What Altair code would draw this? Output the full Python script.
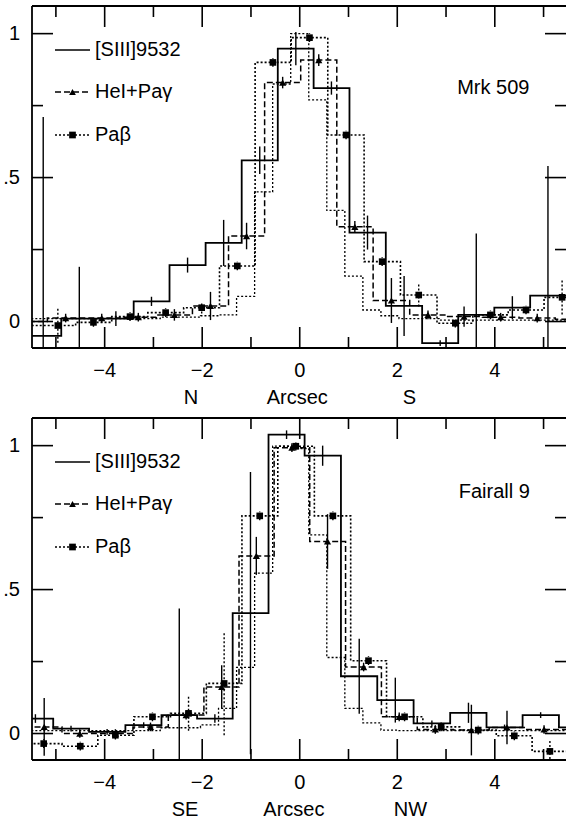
import altair as alt
import pandas as pd

FONT = "Liberation Sans"
FS = 20
W, H = 534, 342
X_DOMAIN = [-5.49, 5.46]
Y_DOMAIN = [-0.092, 1.096]

# ---------------- Mrk 509 (N -> S) ----------------
mrk_siii_x = [-5.26, -4.52, -3.77, -3.04, -2.30, -1.56, -0.82, -0.08, 0.65, 1.39, 2.14, 2.88, 3.62, 4.36, 5.09, 5.83]
mrk_siii_y = [-0.05, 0.01, 0.01, 0.07, 0.196, 0.273, 0.56, 0.948, 0.811, 0.309, 0.054, -0.075, 0.023, 0.048, 0.09, 0.09]
mrk_siii_e = [0.76, 0.18, 0.026, 0.016, 0.026, 0.08, 0.048, 0.058, 0.023, 0.059, 0.104, 0.01, 0.283, 0.04, 0.45, 0]

mrk_hei_x = [-5.55, -4.80, -4.06, -3.31, -2.57, -1.83, -1.09, -0.35, 0.39, 1.13, 1.88, 2.63, 3.37, 4.12, 4.87, 5.61]
mrk_hei_y = [0.0, 0.012, 0.012, 0.015, 0.023, 0.054, 0.297, 0.83, 0.908, 0.329, 0.073, 0.023, 0.017, 0.015, 0.012, 0.008]
mrk_hei_e = [0, 0.015, 0.015, 0.015, 0.02, 0.049, 0.046, 0.02, 0.02, 0.02, 0.078, 0.015, 0.035, 0.015, 0.015, 0]

mrk_pab_x = [-5.70, -4.96, -4.23, -3.48, -2.75, -2.01, -1.28, -0.55, 0.20, 0.95, 1.69, 2.44, 3.19, 3.91, 4.64, 5.38]
mrk_pab_y = [-0.014, -0.014, -0.003, 0.017, 0.031, 0.048, 0.193, 0.90, 0.986, 0.648, 0.208, 0.092, -0.006, 0.023, 0.04, 0.084]
mrk_pab_e = [0, 0.06, 0.015, 0.015, 0.015, 0.02, 0.015, 0.015, 0.015, 0.015, 0.015, 0.04, 0.015, 0.015, 0.015, 0.06]

mrk_psf_x = [-5.0, -3.5, -2.22, -1.85, -1.48, -1.11, -0.74, -0.37, 0.0, 0.37, 0.74, 1.11, 1.48, 1.85, 2.22, 3.5, 5.0]
mrk_psf_y = [0.01, 0.01, 0.015, 0.02, 0.023, 0.087, 0.45, 0.825, 1.0, 0.77, 0.386, 0.158, 0.04, 0.02, 0.01, 0.005, 0.005]

# ---------------- Fairall 9 (SE -> NW) ----------------
f9_siii_x = [-5.42, -4.69, -3.95, -3.20, -2.47, -1.74, -1.01, -0.27, 0.47, 1.22, 1.96, 2.71, 3.46, 4.20, 4.94, 5.69]
f9_siii_y = [0.052, 0.017, 0.006, 0.029, 0.064, 0.052, 0.418, 1.038, 0.965, 0.199, 0.116, 0.035, 0.072, 0.021, 0.064, 0.021]
f9_siii_e = [0.015, 0.01, 0.01, 0.01, 0.37, 0.015, 0.49, 0.015, 0.035, 0.13, 0.078, 0.01, 0.035, 0.01, 0.01, 0]

f9_hei_x = [-5.96, -5.24, -4.51, -3.78, -3.06, -2.33, -1.60, -0.89, -0.16, 0.57, 1.31, 2.04, 2.78, 3.52, 4.25, 5.01, 5.75]
f9_hei_y = [0.03, 0.023, 0.0, 0.0, 0.023, 0.064, 0.162, 0.617, 0.993, 0.667, 0.231, 0.058, 0.014, 0.012, 0.021, 0.014, 0.014]
f9_hei_e = [0, 0.1, 0.015, 0.015, 0.015, 0.015, 0.075, 0.066, 0.015, 0.095, 0.015, 0.015, 0.015, 0.088, 0.058, 0.015, 0]

f9_pab_x = [-5.99, -5.25, -4.50, -3.78, -3.02, -2.28, -1.55, -0.82, -0.08, 0.68, 1.41, 2.15, 2.90, 3.66, 4.40, 5.13, 5.87]
f9_pab_y = [-0.035, -0.035, -0.044, -0.006, 0.058, 0.07, 0.174, 0.756, 0.998, 0.756, 0.253, 0.058, 0.023, 0.012, -0.008, -0.062, -0.062]
f9_pab_e = [0, 0.015, 0.015, 0.015, 0.015, 0.06, 0.18, 0.015, 0.015, 0.015, 0.015, 0.015, 0.015, 0.015, 0.015, 0.04, 0]

f9_psf_x = [-5.0, -3.5, -2.22, -1.85, -1.48, -1.11, -0.74, -0.37, 0.0, 0.37, 0.74, 1.11, 1.48, 1.85, 2.22, 3.5, 5.0]
f9_psf_y = [0.01, 0.01, 0.02, 0.03, 0.087, 0.23, 0.557, 0.998, 0.99, 0.69, 0.264, 0.087, 0.037, 0.012, 0.01, 0.01, 0.01]

legend_labels = ["[SIII]9532", "HeI+Paγ", "Paβ"]
x_major = [-4, -2, 0, 2, 4]
x_major_labels = ["\u22124", "\u22122", "0", "2", "4"]
x_minor = [-5, -3, -1, 1, 3, 5]
y_major = [0, 0.5, 1]
y_major_labels = ["0", ".5", "1"]
y_minor = [0.25, 0.75]

xs = alt.Scale(domain=X_DOMAIN, nice=False, zero=False)
ys = alt.Scale(domain=Y_DOMAIN, nice=False, zero=False)

DASH = [6, 3]
DOT = [2, 2]


def step_frame(centers, values):
    """Histogram outline: each bin runs between midpoints of neighbouring centres."""
    rows = []
    n = len(centers)
    for i, (c, v) in enumerate(zip(centers, values)):
        lo = (centers[i - 1] + c) / 2 if i > 0 else c - (centers[1] - c) / 2
        hi = (c + centers[i + 1]) / 2 if i < n - 1 else c + (c - centers[i - 1]) / 2
        rows.append({"x": lo, "y": v, "k": 2 * i})
        rows.append({"x": hi, "y": v, "k": 2 * i + 1})
    return pd.DataFrame(rows)


def step_layer(centers, values, dash=None, width=1.5):
    kw = dict(color="black", strokeWidth=width, clip=True)
    if dash:
        kw["strokeDash"] = dash
    return alt.Chart(step_frame(centers, values)).mark_line(**kw).encode(
        x=alt.X("x:Q", scale=xs, axis=None),
        y=alt.Y("y:Q", scale=ys, axis=None),
        order="k:Q",
    )


def err_layer(centers, values, errs, dash=None):
    df = pd.DataFrame(
        [{"x": c, "lo": v - e, "hi": v + e} for c, v, e in zip(centers, values, errs) if e > 0]
    )
    kw = dict(color="black", strokeWidth=1.4, clip=True)
    if dash:
        kw["strokeDash"] = dash
    return alt.Chart(df).mark_rule(**kw).encode(
        x=alt.X("x:Q", scale=xs, axis=None),
        y=alt.Y("lo:Q", scale=ys, axis=None),
        y2="hi:Q",
    )


def marker_layer(centers, values, shape, size):
    df = pd.DataFrame({"x": centers, "y": values})
    return alt.Chart(df).mark_point(
        shape=shape, filled=True, size=size, color="black", opacity=1, clip=True
    ).encode(
        x=alt.X("x:Q", scale=xs, axis=None),
        y=alt.Y("y:Q", scale=ys, axis=None),
    )


def label_layers():
    # tick labels drawn as text so the inward tick style stays independent
    xl = pd.DataFrame({"t": x_major, "s": x_major_labels})
    yl = pd.DataFrame({"t": y_major, "s": y_major_labels})
    return [
        alt.Chart(xl).mark_text(fontSize=FS, font=FONT, color="black", baseline="middle").encode(
            x=alt.X("t:Q", scale=xs, axis=None), y=alt.value(H + 23), text="s:N"
        ),
        alt.Chart(yl).mark_text(fontSize=FS, font=FONT, color="black", baseline="middle",
                                align="right").encode(
            y=alt.Y("t:Q", scale=ys, axis=None), x=alt.value(-12), text="s:N"
        ),
    ]


def tick_layers():
    layers = []
    for vals, ln in ((x_major, 21), (x_minor, 11)):
        df = pd.DataFrame({"t": vals})
        for y0, y1 in ((H, H - ln), (0, ln)):
            layers.append(
                alt.Chart(df).mark_rule(color="black", strokeWidth=1.6).encode(
                    x=alt.X("t:Q", scale=xs, axis=None), y=alt.value(y0), y2=alt.value(y1)
                )
            )
    for vals, ln in ((y_major, 21), (y_minor, 11)):
        df = pd.DataFrame({"t": vals})
        for x0, x1 in ((0, ln), (W, W - ln)):
            layers.append(
                alt.Chart(df).mark_rule(color="black", strokeWidth=1.6).encode(
                    y=alt.Y("t:Q", scale=ys, axis=None), x=alt.value(x0), x2=alt.value(x1)
                )
            )
    one = pd.DataFrame({"a": [0]})
    frame = alt.Chart(one).mark_rule(color="black", strokeWidth=1.8)
    layers += [
        frame.encode(x=alt.value(0), x2=alt.value(W), y=alt.value(0)),
        frame.encode(x=alt.value(0), x2=alt.value(W), y=alt.value(H)),
        frame.encode(x=alt.value(0), y=alt.value(0), y2=alt.value(H)),
    ]
    return layers


def legend_layers():
    one = pd.DataFrame({"a": [0]})
    layers = []
    rows = [(44, None, None), (86, DASH, "triangle-up"), (129, DOT, "square")]
    for (yy, dash, shape), label in zip(rows, legend_labels):
        kw = dict(color="black", strokeWidth=1.5)
        if dash:
            kw["strokeDash"] = dash
        layers.append(
            alt.Chart(one).mark_rule(**kw).encode(
                x=alt.value(23), x2=alt.value(58), y=alt.value(yy)
            )
        )
        if shape:
            layers.append(
                alt.Chart(one).mark_point(shape=shape, filled=True, size=45,
                                          color="black", opacity=1).encode(
                    x=alt.value(40.5), y=alt.value(yy)
                )
            )
        layers.append(
            alt.Chart(one).mark_text(align="left", baseline="middle", fontSize=FS,
                                     font=FONT, color="black").encode(
                x=alt.value(63), y=alt.value(yy), text=alt.value(label)
            )
        )
    return layers


def panel(name, name_x, name_y, series, dir_labels, dir_x, anchor=False):
    siii, hei, pab, psf = series
    layers = []
    # thin dotted profile without markers
    layers.append(step_layer(psf[0], psf[1], dash=DOT, width=1.3))
    layers.append(step_layer(pab[0], pab[1], dash=DOT, width=1.6))
    layers.append(step_layer(hei[0], hei[1], dash=DASH, width=1.5))
    layers.append(step_layer(siii[0], siii[1], width=1.8))
    layers.append(err_layer(pab[0], pab[1], pab[2], dash=DOT))
    layers.append(err_layer(hei[0], hei[1], hei[2]))
    layers.append(err_layer(siii[0], siii[1], siii[2]))
    layers.append(marker_layer(hei[0], hei[1], "triangle-up", 52))
    layers.append(marker_layer(pab[0], pab[1], "square", 44))
    layers += tick_layers()
    layers += label_layers()
    layers += legend_layers()

    name_df = pd.DataFrame({"x": [name_x], "y": [name_y], "t": [name]})
    layers.append(
        alt.Chart(name_df).mark_text(fontSize=FS, font=FONT, color="black").encode(
            x=alt.X("x:Q", scale=xs, axis=None), y=alt.Y("y:Q", scale=ys, axis=None), text="t:N"
        )
    )
    dir_df = pd.DataFrame({"x": dir_x, "t": dir_labels})
    layers.append(
        alt.Chart(dir_df).mark_text(fontSize=FS, font=FONT, color="black", baseline="middle").encode(
            x=alt.X("x:Q", scale=xs, axis=None), y=alt.value(H + 50), text="t:N"
        )
    )
    if anchor:
        one = pd.DataFrame({"a": [0]})
        layers.append(
            alt.Chart(one).mark_rule(color="white", strokeOpacity=0, strokeWidth=1).encode(
                x=alt.value(-31.5), y=alt.value(-6), y2=alt.value(2)
            )
        )
    return alt.layer(*layers).properties(width=W, height=H)


top = panel(
    "Mrk 509", 3.97, 0.81,
    ((mrk_siii_x, mrk_siii_y, mrk_siii_e),
     (mrk_hei_x, mrk_hei_y, mrk_hei_e),
     (mrk_pab_x, mrk_pab_y, mrk_pab_e),
     (mrk_psf_x, mrk_psf_y)),
    ["N", "Arcsec", "S"], [-2.23, -0.05, 2.25], anchor=True,
)
bottom = panel(
    "Fairall 9", 3.99, 0.838,
    ((f9_siii_x, f9_siii_y, f9_siii_e),
     (f9_hei_x, f9_hei_y, f9_hei_e),
     (f9_pab_x, f9_pab_y, f9_pab_e),
     (f9_psf_x, f9_psf_y)),
    ["SE", "Arcsec", "NW"], [-2.35, -0.12, 2.27],
)

chart = (
    alt.vconcat(top, bottom, spacing=70, bounds="flush")
    .properties(padding={"left": 0, "top": 0, "right": 0, "bottom": 0}, background="white")
    .configure_view(stroke=None)
)

chart.save("out.html", embed_options={"renderer": "svg", "actions": False})
